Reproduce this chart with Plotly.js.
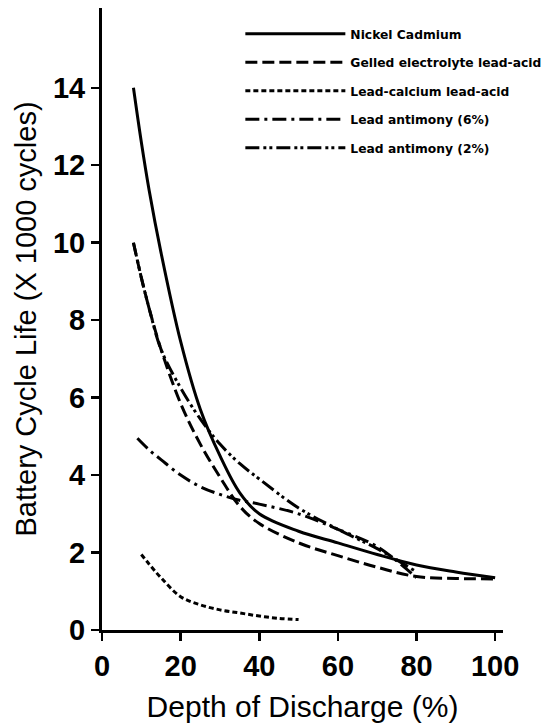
<!DOCTYPE html>
<html>
<head>
<meta charset="utf-8">
<script src="https://cdn.plot.ly/plotly-3.0.1.min.js"></script>
<style>
  html, body { margin: 0; padding: 0; background: #fff; }
  #chart { width: 555px; height: 727px; }
</style>
</head>
<body>
<div id="chart"></div>
<script>
// Depth of discharge (%) and cycle life (x1000 cycles)
const depthNiCd = [8, 10, 12, 15, 20, 25, 30, 35, 40, 50, 60, 70, 80, 90, 100];
const lifeNiCd  = [14.0, 12.6, 11.35, 9.75, 7.45, 5.7, 4.5, 3.55, 3.0, 2.55, 2.25, 1.95, 1.68, 1.5, 1.35];

const depthGelled = [8, 10, 12, 15, 20, 25, 30, 35, 40, 50, 60, 70, 80, 90, 100];
const lifeGelled  = [10.0, 9.1, 8.3, 7.25, 5.85, 4.8, 3.95, 3.2, 2.75, 2.25, 1.92, 1.62, 1.38, 1.33, 1.32];

const depthCalcium = [10, 12, 15, 20, 25, 30, 35, 40, 45, 50];
const lifeCalcium  = [1.95, 1.7, 1.35, 0.86, 0.65, 0.52, 0.44, 0.36, 0.3, 0.27];

const depthSb6 = [9, 12, 15, 20, 25, 30, 35, 40, 50, 60, 70, 80];
const lifeSb6  = [4.95, 4.65, 4.4, 4.0, 3.7, 3.5, 3.35, 3.25, 3.0, 2.6, 2.15, 1.35];

const depthSb2 = [8, 10, 12, 15, 20, 25, 30, 35, 40, 50, 60, 70, 80];
const lifeSb2  = [10.0, 9.1, 8.3, 7.25, 6.25, 5.45, 4.8, 4.3, 3.9, 3.15, 2.6, 2.1, 1.5];

const seriesNames = [
  "Nickel Cadmium",
  "Gelled electrolyte lead-acid",
  "Lead-calcium lead-acid",
  "Lead antimony (6%)",
  "Lead antimony (2%)"
];

const xTicks = [0, 20, 40, 60, 80, 100];
const yTicks = [0, 2, 4, 6, 8, 10, 12, 14];

const dashes = ["solid", "12px,5px", "5px,3px", "14px,5px,3px,5px", "14px,4px,3px,3px,3px,4px"];
const xs = [depthNiCd, depthGelled, depthCalcium, depthSb6, depthSb2];
const ys = [lifeNiCd, lifeGelled, lifeCalcium, lifeSb6, lifeSb2];

const traces = seriesNames.map((name, i) => ({
  type: "scatter",
  mode: "lines",
  name: name,
  x: xs[i],
  y: ys[i],
  legendgroup: "g" + i,
  line: { color: "#000", width: 3, dash: dashes[i], shape: "spline", smoothing: 1 }
}));

const FONT = '"Liberation Sans", Arial, Helvetica, sans-serif';
const LEGFONT = '"DejaVu Sans", "Liberation Sans", Arial, sans-serif';

const layout = {
  width: 555,
  height: 727,
  margin: { l: 102, r: 52, t: 8, b: 97, pad: 0, autoexpand: false },
  paper_bgcolor: "#fff",
  plot_bgcolor: "#fff",
  font: { family: FONT, color: "#000" },
  showlegend: true,
  legend: {
    x: 0.345, y: 0.982, xanchor: "left", yanchor: "top",
    bgcolor: "rgba(0,0,0,0)",
    font: { family: LEGFONT, size: 12.3, color: "#000", weight: "bold" },
    itemwidth: 100,
    tracegroupgap: 9.5,
    traceorder: "grouped"
  },
  xaxis: {
    range: [0, 102],
    tickvals: xTicks,
    ticks: "outside", ticklen: 8, tickwidth: 2.5, tickcolor: "#000",
    showline: true, linewidth: 3, linecolor: "#000",
    showgrid: false, zeroline: false,
    tickfont: { family: FONT, size: 29, color: "#000", weight: "bold" },
    title: { text: "Depth of Discharge (%)", font: { family: FONT, size: 30, color: "#000" }, standoff: 16 }
  },
  yaxis: {
    range: [0, 16.06],
    tickvals: yTicks,
    ticks: "outside", ticklen: 8, tickwidth: 2.5, tickcolor: "#000",
    showline: true, linewidth: 3, linecolor: "#000",
    showgrid: false, zeroline: false,
    tickfont: { family: FONT, size: 29, color: "#000", weight: "bold" },
    title: { text: "Battery Cycle Life (X 1000 cycles)", font: { family: FONT, size: 29, color: "#000" }, standoff: 8 }
  }
};

Plotly.newPlot("chart", traces, layout, { displayModeBar: false, staticPlot: true });
</script>
</body>
</html>
